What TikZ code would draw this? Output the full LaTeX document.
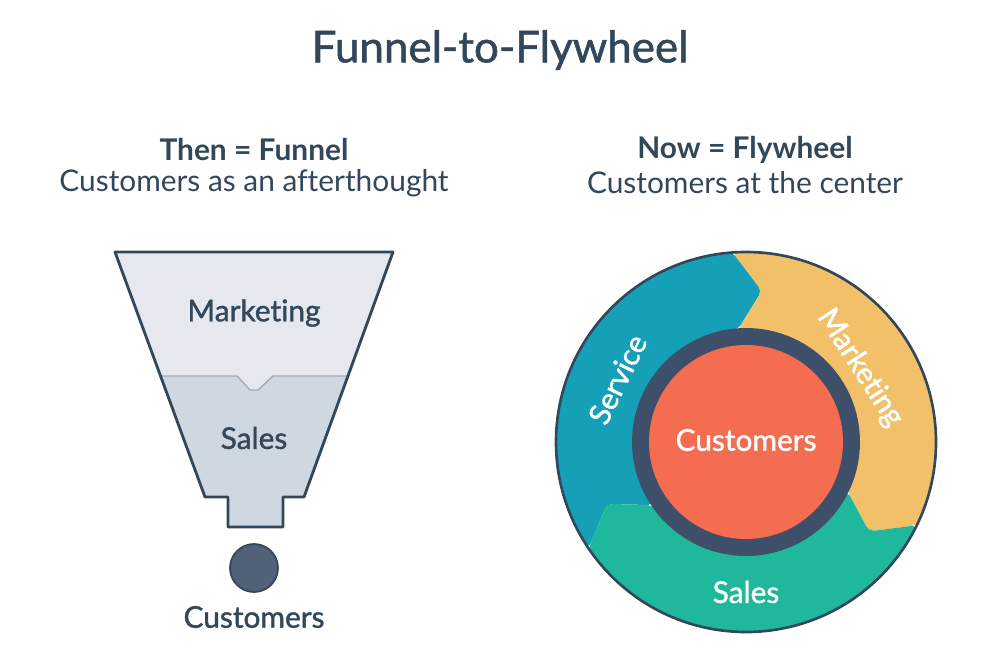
\documentclass[tikz,border=0pt]{standalone}
\usepackage{fontspec}
\setmainfont{Lato}[Ligatures=NoCommon]
\newfontfamily\medfont{Lato}[Ligatures=NoCommon, BoldFont={Lato}, BoldFeatures={FakeBold=1.3}]
\usepackage{xcolor}
\usepackage{tikz}
\usetikzlibrary{positioning}
\definecolor{slate}{HTML}{33475B}
\definecolor{mktfill}{HTML}{E6E8EF}
\definecolor{salesfill}{HTML}{CFD7E1}
\definecolor{ringdark}{HTML}{3E5069}
\definecolor{custorange}{HTML}{F46D51}
\definecolor{service}{HTML}{16A0B8}
\definecolor{marketing}{HTML}{F3C06A}
\definecolor{sales}{HTML}{1FB89D}

% one arrow-shaped piece of the wheel: #1 = head angle, #2 = colour
\newcommand{\wheelpiece}[2]{%
  \fill[#2, rounded corners=3pt] ([shift={(#1+120:190)}]hub) arc[start angle=#1+120, end angle=#1, radius=190]
    -- ([shift={(#1-10:152)}]hub) -- ([shift={(#1:113)}]hub)
    arc[start angle=#1, end angle=#1+120, radius=113]
    -- ([shift={(#1+110:152)}]hub) -- cycle;}

\begin{document}
\begin{tikzpicture}[x=0.02cm, y=0.02cm, every node/.style={text=slate, inner sep=0pt}]
  \useasboundingbox[fill=white] (0,0) rectangle (1000,667);
  \tikzset{
    heading/.style={font=\fontsize{25}{29}\selectfont\medfont\bfseries},
    subhead/.style={font=\fontsize{17}{20}\selectfont\bfseries},
    subline/.style={font=\fontsize{17}{20}\selectfont\medfont},
    label/.style={font=\fontsize{17}{20}\selectfont\medfont\bfseries},
    wheellabel/.style={font=\fontsize{17}{20}\selectfont\medfont\bfseries, text=white},
  }

  \node[heading] (title) at (500,617) {Funnel-to-Flywheel};

  % left column
  \node[subhead] (then) at (254,517) {Then = Funnel};
  \node[subline] (thennote) at (254,484) {Customers as an afterthought};

  \fill[salesfill] (115,415) -- (393,415) -- (304,170) -- (283,170) -- (283,140)
    -- (228,140) -- (228,170) -- (205,170) -- cycle;
  \fill[mktfill] (115,415) -- (393,415) -- (348,291) -- (273,291) -- (258,277)
    -- (250,277) -- (237,291) -- (160.5,291) -- cycle;
  \draw[slate!45, line width=0.8pt] (160.5,291) -- (237,291) -- (250,277) -- (258,277)
    -- (273,291) -- (348,291);
  \draw[slate, line width=1.6pt, line join=round] (115,415) -- (393,415) -- (304,170)
    -- (283,170) -- (283,140) -- (228,140) -- (228,170) -- (205,170) -- cycle;
  \node[label] (fmkt) at (254,354) {Marketing};
  \node[label] (fsales) at (254,229) {Sales};

  \node[circle, draw=slate, line width=1pt, fill=ringdark!90!white, minimum size=0.96cm] (dot) at (254,99) {};
  \node[label] (fcust) at (254,50) {Customers};

  % right column
  \node[subhead] (now) at (745,517) {Now = Flywheel};
  \node[subline] (nownote) at (745,484) {Customers at the center};

  \coordinate (hub) at (746,225);
  \wheelpiece{94}{service}
  \wheelpiece{-26}{marketing}
  \wheelpiece{-146}{sales}
  \draw[slate, line width=1.5pt] (hub) circle[radius=190];
  \fill[ringdark] (hub) circle[radius=114];
  \fill[custorange] (hub) circle[radius=97];

  \node[wheellabel] (wcust) at ([shift={(0,2)}]hub) {Customers};
  \node[wheellabel, rotate=64] (wserv) at ([shift={(154:143)}]hub) {Service};
  \node[wheellabel, rotate=-57] (wmkt) at ([shift={(33:136)}]hub) {Marketing};
  \node[wheellabel] (wsales) at ([shift={(270:150)}]hub) {Sales};
\end{tikzpicture}
\end{document}
